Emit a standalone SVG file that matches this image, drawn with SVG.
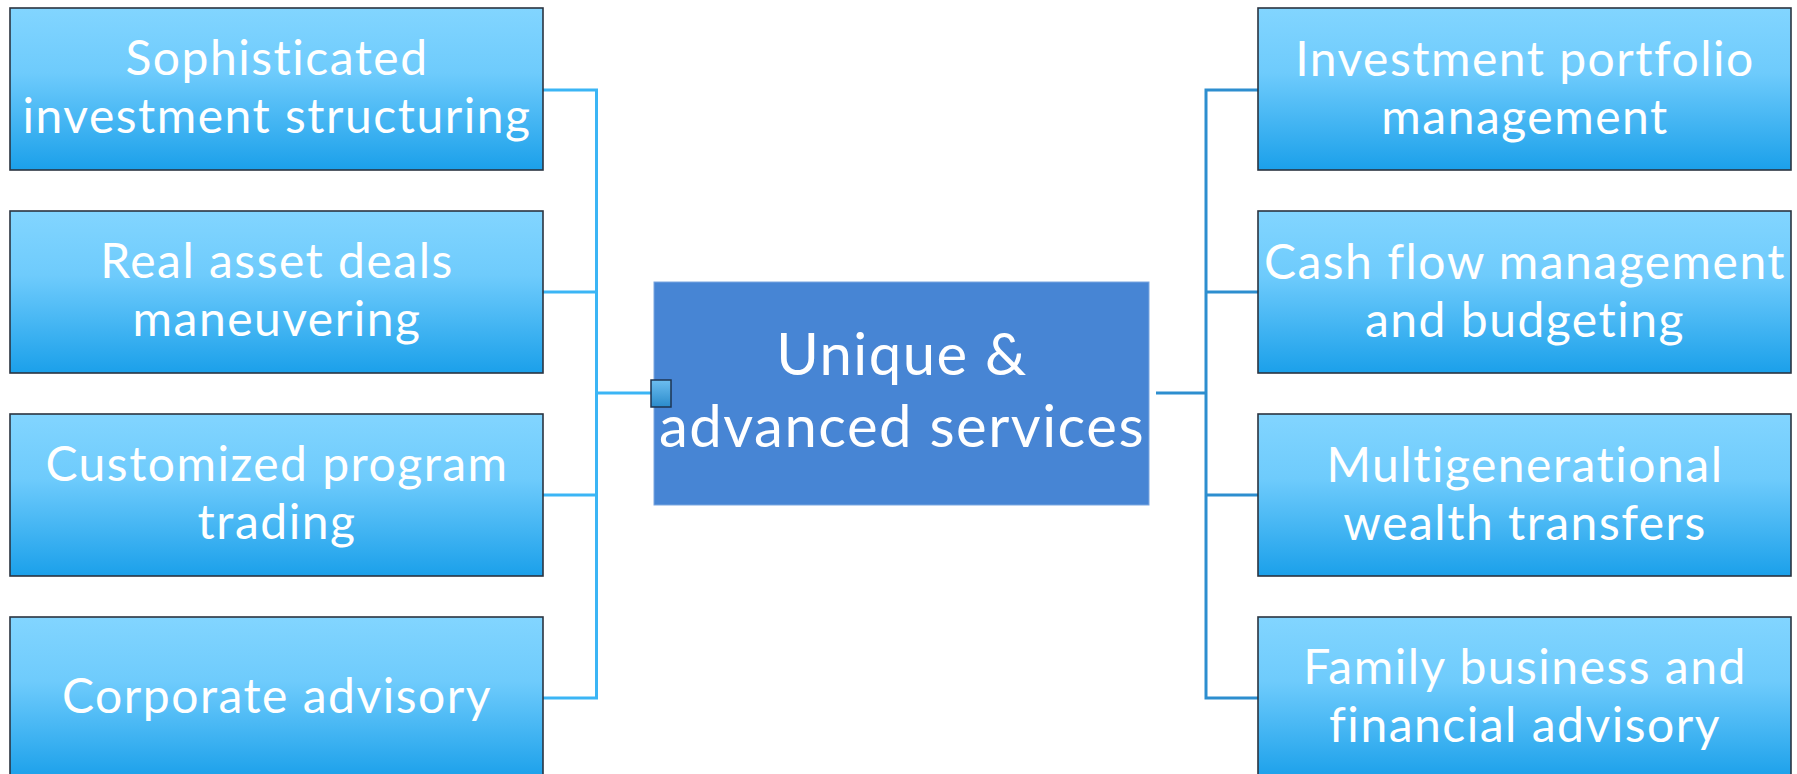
<svg xmlns="http://www.w3.org/2000/svg" width="1797" height="774" viewBox="0 0 1797 774">
<defs>
<linearGradient id="boxg" x1="0" y1="0" x2="0" y2="1">
<stop offset="0" stop-color="#82D5FF"/>
<stop offset="0.4" stop-color="#6ECBFC"/>
<stop offset="1" stop-color="#1BA0EA"/>
</linearGradient>
<linearGradient id="sqg" x1="0" y1="0" x2="0" y2="1">
<stop offset="0" stop-color="#6DBEF0"/>
<stop offset="1" stop-color="#2A8BCB"/>
</linearGradient>
<style>
.box{fill:url(#boxg);stroke:#2b3440;stroke-width:1.6}
.t{font-family:Lato,"Open Sans",sans-serif;font-size:48px;letter-spacing:1.5px;font-variant-ligatures:none;fill:#ffffff;text-anchor:middle}
.ct{font-family:Lato,"Open Sans",sans-serif;font-size:58px;letter-spacing:1.5px;font-variant-ligatures:none;fill:#ffffff;text-anchor:middle}
.cl{fill:none;stroke:#3BB5F5;stroke-width:3}
.cr{fill:none;stroke:#2D8ECF;stroke-width:3}
</style>
</defs>
<rect width="1797" height="774" fill="#ffffff"/>
<g id="connectors">
<path class="cl" d="M543 90H596.5V698H543M543 292H596.5M543 495H596.5M596.5 393H651"/>
<path class="cr" d="M1258 90H1206V698H1258M1258 292H1206M1258 495H1206M1206 393H1156"/>
</g>
<g id="center">
<rect x="654" y="282" width="495" height="223" fill="#4785D4" stroke="#7aa6e0" stroke-width="1"/>
<text class="ct" x="902" y="375">Unique &amp;</text>
<text class="ct" x="902" y="447">advanced services</text>
<rect x="651" y="380" width="20" height="27" fill="url(#sqg)" stroke="#1e3552" stroke-width="1.5"/>
</g>
<g id="l1"><rect class="box" x="10" y="8" width="533" height="162"/>
<text class="t" x="277" y="75">Sophisticated</text><text class="t" x="277" y="133">investment structuring</text></g>
<g id="l2"><rect class="box" x="10" y="211" width="533" height="162"/>
<text class="t" x="277" y="278">Real asset deals</text><text class="t" x="277" y="336">maneuvering</text></g>
<g id="l3"><rect class="box" x="10" y="414" width="533" height="162"/>
<text class="t" x="277" y="481">Customized program</text><text class="t" x="277" y="539">trading</text></g>
<g id="l4"><rect class="box" x="10" y="617" width="533" height="162"/>
<text class="t" x="277" y="713">Corporate advisory</text></g>
<g id="r1"><rect class="box" x="1258" y="8" width="533" height="162"/>
<text class="t" x="1525" y="76">Investment portfolio</text><text class="t" x="1525" y="134">management</text></g>
<g id="r2"><rect class="box" x="1258" y="211" width="533" height="162"/>
<text class="t" x="1525" y="279">Cash flow management</text><text class="t" x="1525" y="337">and budgeting</text></g>
<g id="r3"><rect class="box" x="1258" y="414" width="533" height="162"/>
<text class="t" x="1525" y="482">Multigenerational</text><text class="t" x="1525" y="540">wealth transfers</text></g>
<g id="r4"><rect class="box" x="1258" y="617" width="533" height="162"/>
<text class="t" x="1525" y="684">Family business and</text><text class="t" x="1525" y="742">financial advisory</text></g>
</svg>
